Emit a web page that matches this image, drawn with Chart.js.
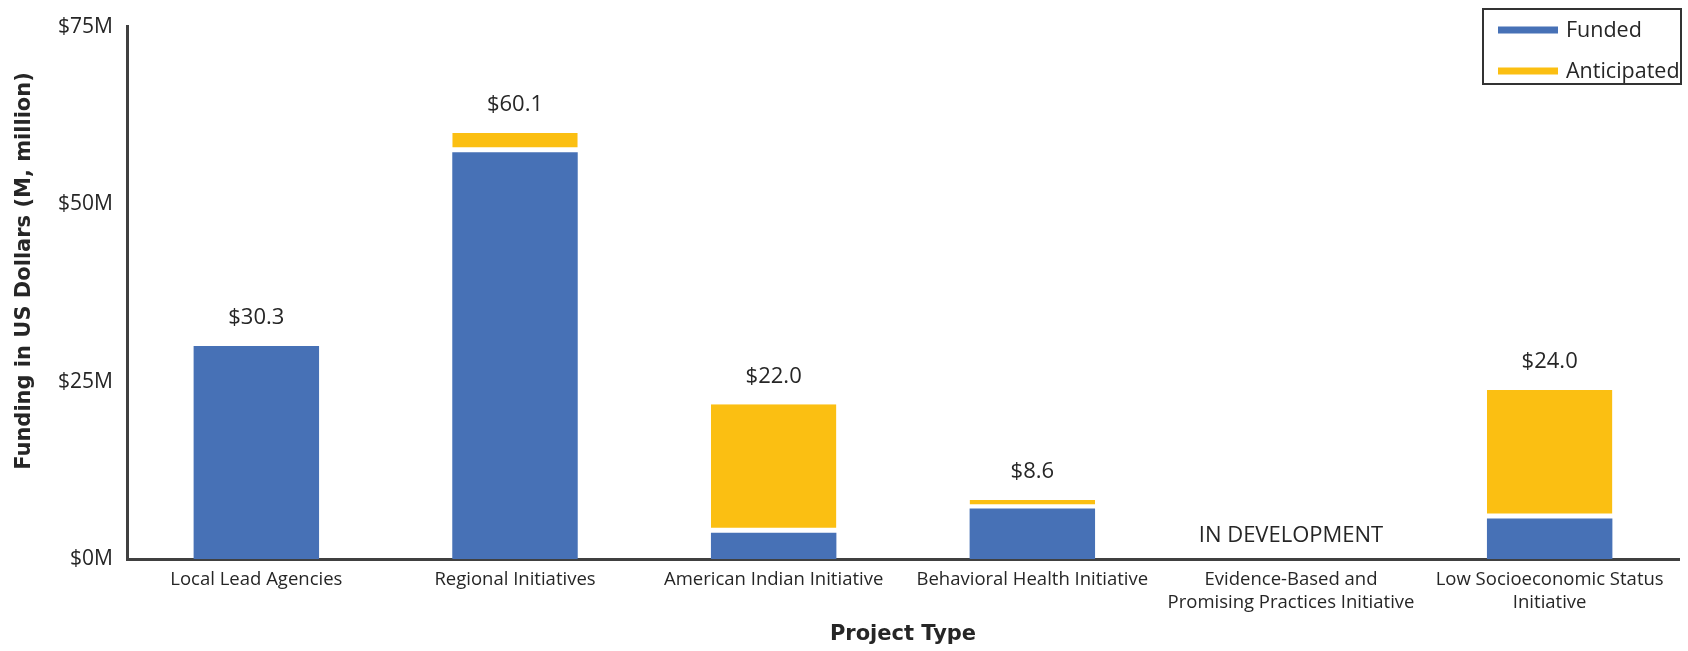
<!DOCTYPE html>
<html>
<head>
<meta charset="utf-8">
<script src="https://cdn.jsdelivr.net/npm/chart.js@4"></script>
<style>
  html, body { margin: 0; padding: 0; background: #fff; }
  #wrap { width: 1688px; height: 651px; }
</style>
</head>
<body>
<div id="wrap"><canvas id="chart" width="1688" height="651"></canvas></div>
<script>
const categories = [
  'Local Lead Agencies',
  'Regional Initiatives',
  'American Indian Initiative',
  'Behavioral Health Initiative',
  ['Evidence-Based and', 'Promising Practices Initiative'],
  ['Low Socioeconomic Status', 'Initiative']
];
const funded = [30.0, 57.3, 3.7, 7.1, null, 5.7];
const anticipated = [null, 2.7, 18.1, 1.2, null, 18.1];
// totals printed above each bar (as labelled in the source)
const totals = [30.3, 60.1, 22.0, 8.6, null, 24.0];
const yTicks = [0, 25, 50, 75];
const noteLabel = 'IN DEVELOPMENT';
const noteIndex = 4;
const yTitle = 'Funding in US Dollars (M, million)';

const FONT = '"Open Sans", Lato, sans-serif';
const BOLD = '"DejaVu Sans", sans-serif';
const TEXT = '#262626';
const BLUE = '#4771B6';
const GOLD = '#FBBF12';

// labels above bars, the "in development" note and the y title
const barLabels = {
  id: 'barLabels',
  afterDatasetsDraw(chart) {
    const ctx = chart.ctx;
    const m0 = chart.getDatasetMeta(0);
    const m1 = chart.getDatasetMeta(1);
    ctx.save();
    ctx.fillStyle = TEXT;
    ctx.font = '22px ' + FONT;
    ctx.textAlign = 'center';
    ctx.textBaseline = 'middle';
    totals.forEach((t, i) => {
      if (t == null) return;
      const bar = anticipated[i] ? m1.data[i] : m0.data[i];
      ctx.fillText('$' + t.toFixed(1), bar.x, bar.y - 28);
    });
    const x = chart.scales.x.getPixelForValue(noteIndex);
    ctx.font = '22px ' + FONT;
    ctx.fillText(noteLabel, x, chart.chartArea.bottom - 23);

    ctx.translate(25, 271);
    ctx.rotate(-Math.PI / 2);
    ctx.font = 'bold 21px ' + BOLD;
    ctx.fillText(yTitle, 0, 0);
    ctx.restore();
  }
};

// boxed legend in the top right corner
const boxLegend = {
  id: 'boxLegend',
  afterDraw(chart) {
    const ctx = chart.ctx;
    const right = chart.width - 7, left = right - 198, top = 9, bottom = 84;
    ctx.save();
    ctx.fillStyle = '#fff';
    ctx.fillRect(left, top, right - left, bottom - top);
    ctx.strokeStyle = '#333';
    ctx.lineWidth = 2;
    ctx.strokeRect(left, top, right - left, bottom - top);
    ctx.font = '21.5px ' + FONT;
    ctx.textBaseline = 'middle';
    ctx.textAlign = 'left';
    chart.data.datasets.forEach((ds, i) => {
      const y = 30 + i * 41;
      ctx.fillStyle = ds.backgroundColor;
      ctx.fillRect(left + 15, y - 3.5, 60, 7);
      ctx.fillStyle = TEXT;
      ctx.fillText(ds.label, left + 83, y + 1);
    });
    ctx.restore();
  }
};

new Chart(document.getElementById('chart'), {
  type: 'bar',
  data: {
    labels: categories,
    datasets: [
      {
        label: 'Funded',
        data: funded,
        backgroundColor: BLUE,
        borderWidth: 0,
        barPercentage: 0.485,
        categoryPercentage: 1
      },
      {
        label: 'Anticipated',
        data: anticipated,
        backgroundColor: GOLD,
        borderColor: '#fff',
        borderWidth: { top: 0, left: 0, right: 0, bottom: 5 },
        borderSkipped: false,
        barPercentage: 0.485,
        categoryPercentage: 1
      }
    ]
  },
  options: {
    responsive: false,
    animation: false,
    layout: { padding: { top: 22, right: 9, left: 0, bottom: 0 } },
    plugins: {
      legend: { display: false },
      tooltip: { enabled: false }
    },
    scales: {
      x: {
        stacked: true,
        grid: { display: false, drawTicks: false },
        border: { display: true, color: '#404040', width: 3 },
        ticks: {
          color: TEXT,
          font: { family: FONT, size: 18.5 },
          padding: 10,
          maxRotation: 0,
          autoSkip: false
        },
        title: {
          display: true,
          text: 'Project Type',
          color: TEXT,
          font: { family: BOLD, size: 21, weight: 'bold' },
          padding: { top: 0, bottom: 4 }
        },
        afterFit(scale) { scale.height = 92; }
      },
      y: {
        stacked: true,
        min: 0,
        max: 75,
        grid: { display: false, drawTicks: false },
        border: { display: true, color: '#404040', width: 3 },
        afterBuildTicks(scale) { scale.ticks = yTicks.map(v => ({ value: v })); },
        ticks: {
          color: TEXT,
          font: { family: FONT, size: 21 },
          padding: 14,
          callback: v => '$' + v + 'M'
        },
        afterFit(scale) { scale.width = 127; }
      }
    }
  },
  plugins: [barLabels, boxLegend]
});
</script>
</body>
</html>
